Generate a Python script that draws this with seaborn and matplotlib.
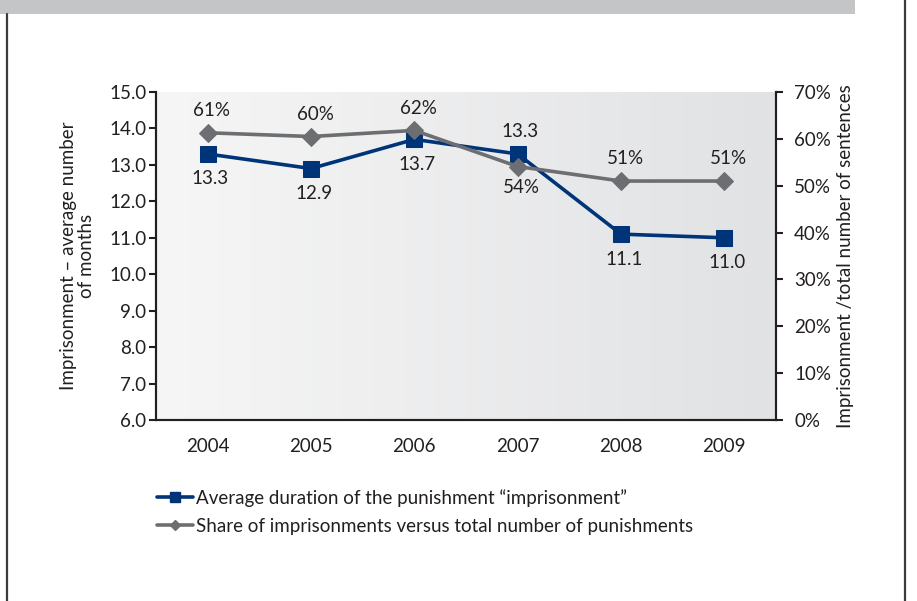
import numpy as np
import pandas as pd
import matplotlib.pyplot as plt
import seaborn as sns
from matplotlib.lines import Line2D
from matplotlib.patches import Rectangle
from matplotlib.colors import LinearSegmentedColormap

years = ['2004', '2005', '2006', '2007', '2008', '2009']
avg_months = [13.3, 12.9, 13.7, 13.3, 11.1, 11.0]
share_pct = [61.3, 60.5, 61.8, 54.1, 51.0, 51.0]
share_labels = ['61%', '60%', '62%', '54%', '51%', '51%']

left_ticks = [6.0, 7.0, 8.0, 9.0, 10.0, 11.0, 12.0, 13.0, 14.0, 15.0]
right_ticks = [0, 10, 20, 30, 40, 50, 60, 70]

blue = '#003478'
grey = '#6d6e71'
ink = '#231f20'
fs = 13.5

sns.set_theme(style="white")
plt.rcParams['font.family'] = ['Lato', 'DejaVu Sans']
plt.rcParams['text.color'] = ink

df = pd.DataFrame({'pos': np.arange(len(years)), 'months': avg_months, 'share': share_pct})

fig = plt.figure(figsize=(9.17, 6.01), dpi=100)
ax = fig.add_axes([156/917, 1 - 420/601, 620/917, 328/601])

# gradient background of the plot area
grad = np.linspace(0, 1, 256).reshape(1, -1)
cmap = LinearSegmentedColormap.from_list('bg', ['#f6f6f6', '#e1e2e4'])
ax.imshow(grad, cmap=cmap, aspect='auto', extent=[0, 1, 0, 1],
          transform=ax.transAxes, zorder=0)

sns.lineplot(data=df, x='pos', y='months', ax=ax, color=blue, linewidth=2.6,
             marker='s', markersize=12, markeredgecolor=blue, zorder=3)
ax.set_xlim(-0.5, 5.5)
ax.set_ylim(6, 15)
ax.set_yticks(left_ticks)
ax.set_yticklabels([f'{v:.1f}' for v in left_ticks], fontsize=fs, color=ink)
ax.set_xticks(range(len(years)))
ax.set_xticklabels(years, fontsize=fs, color=ink)
ax.set_xticks(np.arange(-0.5, 6, 1), minor=True)
ax.tick_params(axis='x', which='major', length=0, pad=13)
ax.tick_params(axis='x', which='minor', length=6, width=1.5, color=ink, direction='out')
ax.tick_params(axis='y', length=5, width=1.5, color=ink, direction='out', pad=2, left=True)
ax.set_xlabel('')
ax.set_ylabel('Imprisonment – average number\nof months', fontsize=fs, color=ink,
              labelpad=10, linespacing=1.05)

for i, v in enumerate(avg_months):
    dy = 16 if i == 3 else -18
    ax.annotate(f'{v:.1f}', (i, v), textcoords='offset points', xytext=(2, dy),
                ha='center', va='center', fontsize=fs, color=ink)

ax2 = ax.twinx()
sns.lineplot(data=df, x='pos', y='share', ax=ax2, color=grey, linewidth=2.6,
             marker='D', markersize=9, markeredgecolor=grey, zorder=4)
ax2.set_ylim(0, 70)
ax2.set_yticks(right_ticks)
ax2.set_yticklabels([f'{v}%' for v in right_ticks], fontsize=fs, color=ink)
ax2.tick_params(axis='y', length=5, width=1.5, color=ink, direction='out', pad=8, right=True)
ax2.set_ylabel('Imprisonment /total number of sentences', fontsize=fs, color=ink, labelpad=4)
ax2.set_xlim(-0.5, 5.5)

for i, v in enumerate(share_pct):
    dy = -15 if i == 3 else 16
    ax2.annotate(share_labels[i], (i, v), textcoords='offset points', xytext=(3, dy),
                 ha='center', va='center', fontsize=fs, color=ink)

for a in (ax, ax2):
    a.spines['top'].set_visible(False)
    for s in ('left', 'bottom', 'right'):
        a.spines[s].set_color(ink)
        a.spines[s].set_linewidth(1.5)

handles = [
    Line2D([], [], color=blue, linewidth=2.6, marker='s', markersize=7),
    Line2D([], [], color=grey, linewidth=2.6, marker='D', markersize=5),
]
fig.legend(handles, ['Average duration of the punishment \u201cimprisonment\u201d',
                     'Share of imprisonments versus total number of punishments'],
           loc='upper left', bbox_to_anchor=(140/917, 1 - 472/601), frameon=False,
           fontsize=fs, handlelength=1.9, handletextpad=0.2, labelspacing=0.6,
           labelcolor=ink)

# page decoration: grey band and frame lines
fig.patches.append(Rectangle((0, 1 - 14/601), 855/917, 14/601, transform=fig.transFigure,
                             facecolor='#c4c5c7', edgecolor='none'))
fig.add_artist(Line2D([7/917, 7/917], [0, 1 - 14/601], color='#3a3a3a', linewidth=1.6))
fig.add_artist(Line2D([905/917, 905/917], [0, 1], color='#3a3a3a', linewidth=1.6))

fig.savefig('out.png', dpi=100)
